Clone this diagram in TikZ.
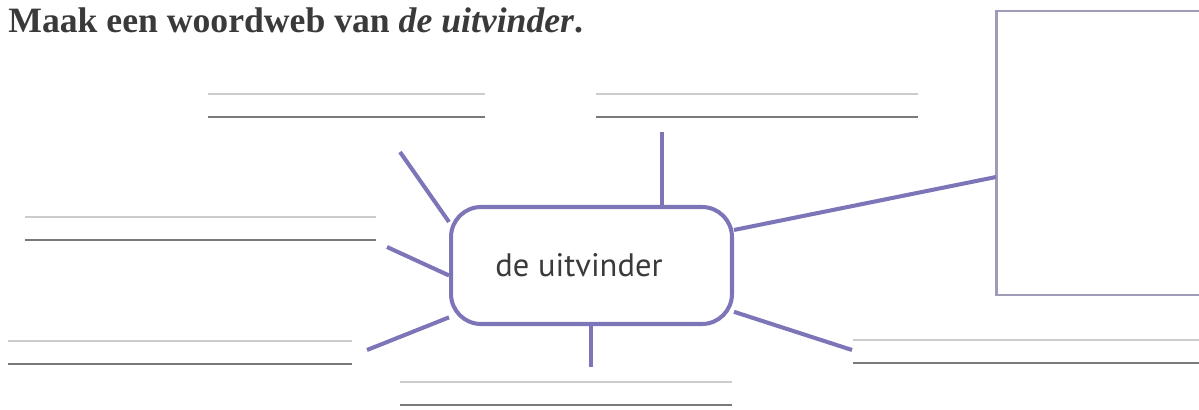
\documentclass[tikz,border=0pt]{standalone}
\usepackage{fontspec}
\setmainfont{Liberation Serif}
\newfontfamily\webfont{PT Sans}
\definecolor{webpaars}{HTML}{7C75B8}
\definecolor{vakrand}{HTML}{9E9CB8}
\definecolor{lijngrijs}{HTML}{7A7A7A}
\definecolor{hulpgrijs}{HTML}{CCCCCC}
\definecolor{tekstgrijs}{HTML}{3A3A3A}
\begin{document}
\begin{tikzpicture}[x=0.02cm, y=-0.02cm,
    spaak/.style={webpaars, line width=2.3pt},
    schrijflijn/.style={lijngrijs, line width=1.1pt},
    hulplijn/.style={hulpgrijs, line width=0.9pt}]
    \useasboundingbox (0,0) rectangle (1199,409);

    % opdracht
    \node[anchor=base west, inner sep=0pt, text=tekstgrijs, font=\fontsize{20.3}{22}\selectfont\bfseries]
      (opdracht) at (8,32) {Maak een woordweb van \textit{de uitvinder}.};

    % middelste vak
    \node[draw=webpaars, line width=2.3pt, rounded corners=0.6cm, minimum width=5.62cm,
      minimum height=2.34cm, inner sep=0pt, text=tekstgrijs, font=\webfont\fontsize{18.5}{20}\selectfont]
      (uitvinder) at (591.5,265.5) {de uitvinder\hspace*{0.5cm}};

    % vak rechts (loopt door buiten de rand)
    \draw[vakrand, line width=1.7pt] (1210,11) -- (996,11) -- (996,295) -- (1210,295);

    % schrijflijnen (per paar)
    \foreach \xa/\xb/\y in {208/485/94, 596/918/94, 25/376/217, 8/352/341, 400/732/382, 853/1199/340} {
      \draw[hulplijn] (\xa,\y) -- (\xb,\y);
      \draw[schrijflijn] (\xa,\y+23) -- (\xb,\y+23);
    }

    % losse uiteinden van de spaken
    \coordinate (linksboven) at (400,152);
    \coordinate (boven) at (662,132);
    \coordinate (rechts) at (996,177);
    \coordinate (links) at (387,247);
    \coordinate (linksonder) at (367,350);
    \coordinate (onder) at (591,367);
    \coordinate (rechtsonder) at (852,350);

    % spaken
    \draw[spaak] (uitvinder.163) -- (linksboven);
    \draw[spaak] (uitvinder.north -| boven) -- (boven);
    \draw[spaak] (uitvinder.14) -- (rechts);
    \draw[spaak] (uitvinder.184) -- (links);
    \draw[spaak] (uitvinder.200) -- (linksonder);
    \draw[spaak] (uitvinder.south -| onder) -- (onder);
    \draw[spaak] (uitvinder.-18) -- (rechtsonder);
  \end{tikzpicture}
\end{document}
